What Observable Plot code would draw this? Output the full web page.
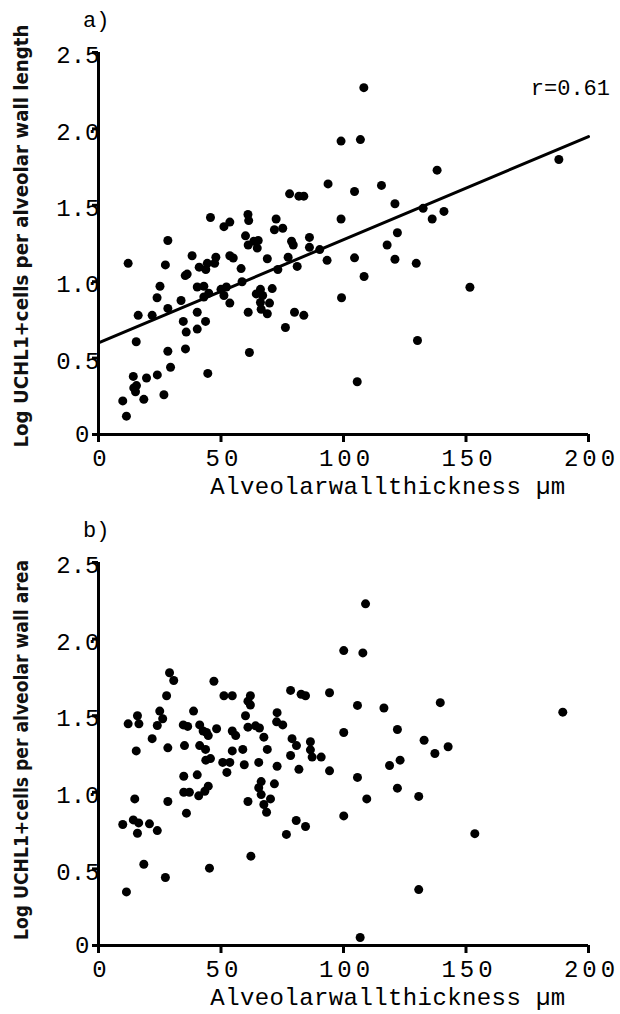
<!DOCTYPE html>
<html><head><meta charset="utf-8">
<script src="https://cdn.jsdelivr.net/npm/d3@7"></script>
<script src="https://cdn.jsdelivr.net/npm/@observablehq/plot@0.6"></script>
<style>
body{margin:0;background:#fff;width:620px;height:1014px;overflow:hidden}
#chart svg{display:block;overflow:visible}
</style></head><body><div id="chart"></div><script>
// ---- chart data ----
const xTicks = [0, 50, 100, 150, 200];
const yTicks = [0, 0.5, 1, 1.5, 2, 2.5];
const yTickLabels = ["0", "0.5", "1.0", "1.5", "2.0", "2.5"];
const panelLabels = ["a)", "b)"];
const xTitle = "Alveolarwallthickness µm";
const yTitles = ["Log UCHL1+cells per alveolar wall length", "Log UCHL1+cells per alveolar wall area"];
const corrLabel = "r=0.61";
const regIntercept = 0.60;
const regSlope = 0.00675;

// panel a: alveolar wall thickness (µm) vs log UCHL1+ cells per alveolar wall length
const thicknessA = [99, 93.7, 78, 81.8, 83.8, 45.7, 61, 61.3, 53.6, 51.2, 72.5, 71.8, 75.2, 99, 28.3, 60, 61.1, 63.4, 65.2, 64.8,
  78.8, 79.5, 86.1, 86.1, 90.3, 12.1, 27.3, 38.2, 47.9, 47.4, 44.4, 41.1, 43.8, 53.6, 55, 58.2, 68.9, 77.4, 81.1, 93.3,
  73.2, 35.4, 36.2, 58.6, 25.1, 40.3, 43, 45, 50, 52.2, 51.2, 23.9, 33.7, 43, 53.6, 64.4, 66.1, 67, 70.9, 66.1,
  69.8, 66.4, 68.9, 99.2, 16.2, 21.9, 28.3, 40.3, 61.1, 80, 83.8, 34.6, 43.7, 40.3, 35.8, 76.3, 15.4, 28.3, 35.5, 61.6,
  29.4, 14.2, 19.6, 24, 44.6, 14.4, 15.5, 15.1, 18.5, 26.7, 9.9, 11.4, 108.3, 106.9, 104.5, 115.5, 138.2, 121, 132.5, 136.2,
  141, 122, 117.8, 104.5, 121, 129.7, 187.9, 108.4, 151.6, 130.2, 105.6];
const lengthA = [1.92, 1.64, 1.575, 1.56, 1.56, 1.42, 1.44, 1.40, 1.39, 1.36, 1.41, 1.34, 1.35, 1.41, 1.27, 1.30, 1.24, 1.265, 1.27, 1.22,
  1.265, 1.24, 1.29, 1.225, 1.21, 1.12, 1.11, 1.17, 1.16, 1.12, 1.12, 1.095, 1.08, 1.17, 1.155, 1.086, 1.15, 1.16, 1.10, 1.14,
  1.08, 1.04, 1.05, 1.0, 0.97, 0.965, 0.97, 0.925, 0.95, 0.965, 0.91, 0.895, 0.877, 0.90, 0.86, 0.92, 0.95, 0.91, 0.955, 0.864,
  0.86, 0.82, 0.79, 0.895, 0.78, 0.78, 0.825, 0.80, 0.80, 0.80, 0.78, 0.74, 0.74, 0.69, 0.67, 0.70, 0.607, 0.545, 0.56, 0.537,
  0.44, 0.38, 0.37, 0.39, 0.40, 0.305, 0.32, 0.28, 0.23, 0.26, 0.22, 0.12, 2.27, 1.93, 1.59, 1.63, 1.73, 1.51, 1.48, 1.41,
  1.46, 1.32, 1.24, 1.156, 1.147, 1.12, 1.80, 1.034, 0.964, 0.615, 0.345];

// panel b: alveolar wall thickness (µm) vs log UCHL1+ cells per alveolar wall area
const thicknessB = [100.1, 29, 30.7, 47.1, 27.8, 51.2, 54.6, 62, 78.4, 82.7, 84.5, 94.3, 61, 62, 25, 26.2, 15.9, 16.5, 12.1, 24,
  38.8, 34.6, 36.4, 41.3, 48.2, 42.7, 44.1, 44.8, 60, 61, 64.1, 65.7, 54.6, 56, 72.9, 72.7, 75.2, 67.5, 79, 86.5,
  100.1, 21.9, 15.4, 28.3, 35.1, 41.3, 43.7, 54.6, 58.9, 68.9, 80.8, 86.5, 78.4, 87.2, 90.9, 43.8, 45.7, 50.7, 53.6, 59.5,
  65.4, 72.9, 81.8, 94.3, 52.4, 34.8, 40.3, 66.4, 65.4, 71.8, 44.8, 43.4, 34.8, 37.1, 40.9, 66.4, 70.2, 14.8, 28.3, 61,
  67.5, 68.6, 35.9, 9.9, 14.2, 16.4, 20.8, 15.9, 24, 80.7, 84.5, 76.7, 100.1, 18.5, 27.3, 11.4, 45.3, 62.2, 109, 107.9,
  105.7, 116.5, 139.5, 189.5, 122, 132.9, 137.3, 142.7, 118.8, 123.1, 105.7, 122, 109.5, 130.7, 153.6, 130.7, 106.8];
const areaB = [1.925, 1.78, 1.73, 1.725, 1.63, 1.63, 1.63, 1.63, 1.665, 1.64, 1.63, 1.65, 1.595, 1.57, 1.53, 1.48, 1.50, 1.447, 1.447, 1.436,
  1.53, 1.44, 1.43, 1.44, 1.415, 1.40, 1.39, 1.37, 1.50, 1.425, 1.434, 1.42, 1.40, 1.37, 1.52, 1.46, 1.44, 1.36, 1.35, 1.33,
  1.39, 1.35, 1.27, 1.29, 1.305, 1.305, 1.28, 1.27, 1.28, 1.28, 1.305, 1.277, 1.24, 1.23, 1.23, 1.21, 1.22, 1.195, 1.195, 1.18,
  1.195, 1.17, 1.15, 1.14, 1.13, 1.105, 1.114, 1.07, 1.03, 1.055, 1.04, 1.007, 1.0, 1.0, 0.977, 0.985, 0.957, 0.957, 0.94, 0.94,
  0.92, 0.87, 0.864, 0.79, 0.82, 0.80, 0.794, 0.733, 0.75, 0.816, 0.777, 0.725, 0.846, 0.53, 0.444, 0.35, 0.505, 0.583, 2.23, 1.91,
  1.567, 1.55, 1.585, 1.523, 1.41, 1.34, 1.253, 1.297, 1.175, 1.21, 1.097, 1.027, 0.957, 0.973, 0.73, 0.365, 0.052];

// ---- drawing ----
const mono = "'Liberation Mono', 'DejaVu Sans Mono', monospace";
const fitX = [xTicks[0], xTicks[xTicks.length - 1]];
const yFmt = d => yTickLabels[yTicks.indexOf(d)];

function panel({xs, ys, height, marginTop, marginBottom, yTitle, label, fit, corr, titleCenter, titleLength}) {
  const pts = xs.map((x, i) => ({x, y: ys[i]}));
  const marks = [
    Plot.axisX(xTicks, {tickSize: 8, strokeWidth: 3, tickFormat: () => "", label: null}),
    Plot.axisX(xTicks, {tickSize: 0, tickPadding: 14, dx: 3, fontSize: 24, tickFormat: d => String(d), label: null,
      className: "xticklabels"}),
    Plot.axisY(yTicks, {tickSize: 6, strokeWidth: 3, tickFormat: () => "", label: null}),
    Plot.axisY(yTicks.slice(0, 1), {tickSize: 0, tickPadding: 9, dy: 0, fontSize: 24, tickFormat: yFmt, label: null}),
    Plot.axisY(yTicks.slice(1), {tickSize: 0, tickPadding: -1, dy: 3, fontSize: 24, tickFormat: yFmt, label: null}),
    Plot.ruleX([0], {strokeWidth: 3}),
    Plot.ruleY([0], {strokeWidth: 3, x1: 0, x2: 200}),
    Plot.dot(pts, {x: "x", y: "y", r: 4.5, fill: "black", stroke: "none"})
  ];
  if (fit) {
    marks.push(Plot.line(fitX.map(x => ({x, y: regIntercept + regSlope * x})), {x: "x", y: "y", stroke: "black", strokeWidth: 3}));
  }
  const svg = Plot.plot({
    width: 620, height, marginLeft: 98, marginRight: 32, marginTop, marginBottom,
    x: {domain: [0, 200]}, y: {domain: [0, 2.5]},
    style: {fontFamily: mono, fontSize: "24px", color: "black", background: "white", overflow: "visible"},
    marks
  });
  const s = d3.select(svg);
  s.selectAll(".xticklabels text").attr("letter-spacing", "4px");
  const plotBottom = height - marginBottom;
  s.append("text").attr("x", 83).attr("y", marginTop - 25).attr("text-anchor", "start")
    .attr("font-family", mono).attr("font-size", 22).attr("fill", "black").text(label);
  s.append("text").attr("x", 388).attr("y", plotBottom + 60).attr("text-anchor", "middle")
    .attr("font-family", mono).attr("font-size", 24).attr("letter-spacing", "0.4px").attr("fill", "black").text(xTitle);
  s.append("text").attr("transform", `translate(28,${titleCenter}) rotate(-90)`).attr("text-anchor", "middle")
    .attr("font-family", "'Liberation Sans Narrow', 'DejaVu Sans Condensed', 'Liberation Sans', sans-serif")
    .attr("font-weight", "bold").attr("font-size", 19).attr("fill", "#111")
    .attr("textLength", titleLength).attr("lengthAdjust", "spacingAndGlyphs").text(yTitle);
  if (corr) {
    s.append("text").attr("x", 610).attr("y", marginTop + 43).attr("text-anchor", "end")
      .attr("font-family", mono).attr("font-size", 22).attr("fill", "black").text(corr);
  }
  return svg;
}

const root = document.getElementById("chart");
root.appendChild(panel({xs: thicknessA, ys: lengthA, height: 500, marginTop: 52, marginBottom: 66,
  yTitle: yTitles[0], label: panelLabels[0], fit: true, corr: corrLabel, titleCenter: 236, titleLength: 423}));
root.appendChild(panel({xs: thicknessB, ys: areaB, height: 514, marginTop: 62, marginBottom: 69,
  yTitle: yTitles[1], label: panelLabels[1], fit: false, corr: null, titleCenter: 250, titleLength: 380}));
</script></body></html>
